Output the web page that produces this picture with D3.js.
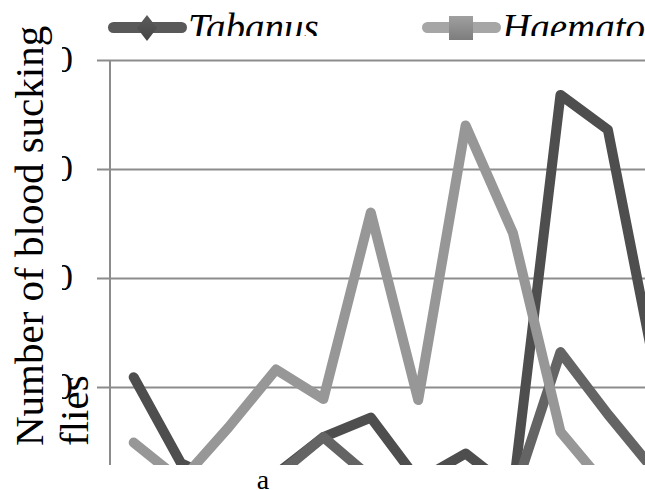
<!DOCTYPE html>
<html>
<head>
<meta charset="utf-8">
<script src="https://cdn.jsdelivr.net/npm/d3@7"></script>
<style>
  html, body { margin: 0; padding: 0; background: #fff; overflow: hidden; }
</style>
</head>
<body>
<div id="chart"></div>
<script>
// monthly counts
var months = ["Jan", "Feb", "Mar", "Apr", "May", "Jun", "Jul", "Aug", "Sep", "Oct", "Nov", "Dec"];
var tabanus     = [10.9, 3.0, 1.0, 2.0, 5.4, 7.2, 1.4, 3.9, 0.5, 36.8, 33.6, 11.5];
var haematopota = [4.9, 1.4, 6.3, 11.6, 8.9, 26.0, 8.8, 34.0, 24.1, 5.9, 0.7, 0.3];
var stomoxys    = [1.0, 0.8, 0.5, 1.8, 5.4, 1.7, 0.3, 0.2, 0.0, 13.2, 7.5, 2.2];
var yTicks = [10, 20, 30, 40];

var W = 645, H = 490;
var plotL = 110, plotR = 679, plotT = 60, plotB = 496;
var serif = "'Liberation Serif', 'Times New Roman', serif";

var svg = d3.select("#chart").append("svg")
    .attr("width", W).attr("height", H);

var defs = svg.append("defs");
defs.append("clipPath").attr("id", "plotClip")
  .append("rect").attr("x", 62).attr("y", 0).attr("width", W - 62).attr("height", 465);
defs.append("clipPath").attr("id", "legendClip")
  .append("rect").attr("x", 0).attr("y", 0).attr("width", W).attr("height", 36);

var gradDark = defs.append("linearGradient").attr("id", "gDark")
    .attr("x1", 0).attr("y1", 0).attr("x2", 0).attr("y2", 1);
gradDark.append("stop").attr("offset", "0%").attr("stop-color", "#5c5c5c");
gradDark.append("stop").attr("offset", "100%").attr("stop-color", "#454545");
var gradLight = defs.append("linearGradient").attr("id", "gLight")
    .attr("x1", 0).attr("y1", 0).attr("x2", 0).attr("y2", 1);
gradLight.append("stop").attr("offset", "0%").attr("stop-color", "#a0a0a0");
gradLight.append("stop").attr("offset", "100%").attr("stop-color", "#7d7d7d");

var x = d3.scaleBand().domain(months).range([plotL, plotR]).padding(0);
var y = d3.scaleLinear().domain([0, 40]).range([plotB, plotT]);

var plot = svg.append("g").attr("clip-path", "url(#plotClip)");

// gridlines + tick labels, axis group sits on the right edge so ticks run leftwards
var yAxis = d3.axisLeft(y).tickValues(yTicks).tickSize(plotR - 97).tickPadding(24);
var ax = plot.append("g")
    .attr("transform", "translate(" + plotR + ",0)")
    .call(yAxis);
ax.select(".domain").remove();
ax.selectAll(".tick line").attr("stroke", "#8c8c8c").attr("stroke-width", 2);
ax.selectAll(".tick text")
    .attr("fill", "#000")
    .style("font-family", serif)
    .style("font-size", "37px");

// vertical axis line
plot.append("line")
    .attr("x1", plotL).attr("x2", plotL)
    .attr("y1", plotT).attr("y2", plotB)
    .attr("stroke", "#8c8c8c").attr("stroke-width", 2);

var series = [
  { name: "Tabanus", values: tabanus, color: "#4e4e4e", legendColor: "#595959", marker: "diamond" },
  { name: "Stomoxys", values: stomoxys, color: "#646464", legendColor: "#707070", marker: "triangle" },
  { name: "Haematopota", values: haematopota, color: "#979797", legendColor: "#a6a6a6", marker: "square" }
];

var line = d3.line()
    .x(function(d, i) { return x(months[i]) + x.bandwidth() / 2; })
    .y(function(d) { return y(d); });

plot.selectAll("path.series")
    .data(series)
    .enter().append("path")
      .attr("class", "series")
      .attr("d", function(d) { return line(d.values); })
      .attr("fill", "none")
      .attr("stroke", function(d) { return d.color; })
      .attr("stroke-width", 10)
      .attr("stroke-linejoin", "round")
      .attr("stroke-linecap", "round");

// legend (cut off at top and right like the reference)
var legendOrder = [series[0], series[2], series[1]];
var legend = svg.append("g");
var item = legend.selectAll("g.item")
    .data(legendOrder)
    .enter().append("g")
      .attr("class", "item")
      .attr("transform", function(d, i) { return "translate(" + (108 + i * 314) + ",0)"; });

item.append("line")
    .attr("x1", 5.5).attr("x2", 73.5)
    .attr("y1", 27.5).attr("y2", 27.5)
    .attr("stroke", function(d) { return d.legendColor; })
    .attr("stroke-width", 11)
    .attr("stroke-linecap", "round");

item.append("path")
    .attr("d", function(d) {
      if (d.marker === "diamond") return "M39,15L49,28L39,41L29,28Z";
      if (d.marker === "square") return "M27,16H51V40H27Z";
      return "M39,16L51,40H27Z";
    })
    .attr("fill", function(d) { return d.marker === "diamond" ? "url(#gDark)" : "url(#gLight)"; });

item.append("text")
    .attr("clip-path", "url(#legendClip)")
    .attr("x", 80).attr("y", 41)
    .style("font-family", serif)
    .style("font-style", "italic")
    .style("font-size", "39px")
    .attr("fill", "#000")
    .text(function(d) { return d.name; });

// y axis title
var title = svg.append("text")
    .attr("transform", "rotate(-90)")
    .style("font-family", serif)
    .style("font-size", "41px")
    .attr("fill", "#000");
title.append("tspan").attr("x", -446).attr("y", 43).text("Number of blood sucking");
title.append("tspan").attr("x", -446).attr("y", 88).text("flies");

// panel label
svg.append("text")
    .attr("x", 263).attr("y", 489)
    .attr("text-anchor", "middle")
    .style("font-family", serif)
    .style("font-size", "28px")
    .attr("fill", "#000")
    .text("a");
</script>
</body>
</html>
